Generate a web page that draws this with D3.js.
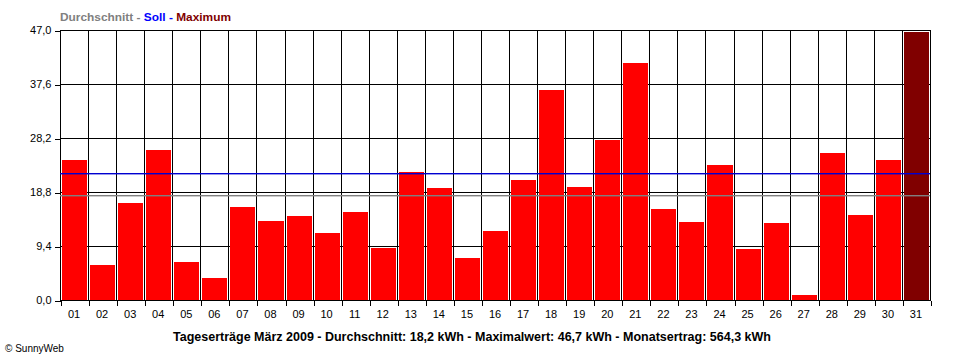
<!DOCTYPE html>
<html><head><meta charset="utf-8">
<script src="https://cdn.jsdelivr.net/npm/d3@7"></script>
<style>
body{margin:0;background:#fff}
svg{display:block;font-family:"Liberation Sans",Arial,sans-serif}
</style>
</head><body><svg id="c" width="960" height="360"></svg>
<script>
const days = ["01","02","03","04","05","06","07","08","09","10","11","12","13","14","15","16","17","18","19","20","21","22","23","24","25","26","27","28","29","30","31"];
const values = [24.4,6.1,16.9,26.1,6.6,3.8,16.2,13.8,14.6,11.7,15.3,9.1,22.3,19.5,7.3,12.0,20.9,36.6,19.7,27.9,41.3,15.8,13.6,23.5,8.9,13.4,0.9,25.6,14.8,24.4,46.7];
const average = 18.2;
const target = 22.1;
const yTicks = [0, 9.4, 18.8, 28.2, 37.6, 47.0];
const legendParts = [["Durchschnitt","#808080"],[" - ","#808080"],["Soll","#0000ff"],[" - ","#0000ff"],["Maximum","#800000"]];
const title = "Tageserträge März 2009 - Durchschnitt: 18,2 kWh - Maximalwert: 46,7 kWh - Monatsertrag: 564,3 kWh";
const credit = "© SunnyWeb";

const L = 60, R = 930, T = 30, B = 300;
const svg = d3.select("#c");
const fmt = v => d3.format(".1f")(v).replace(".", ",");

const y = d3.scaleLinear().domain([0, 47]).range([B, T]);
const xb = d3.scaleBand().domain(days).range([L, R]).padding(0);
const xl = d3.scaleLinear().domain([0, days.length]).range([L, R]);

const g = svg.append("g").attr("shape-rendering", "crispEdges");

g.selectAll("line.hg").data(yTicks).join("line").attr("class", "hg")
  .attr("x1", L).attr("x2", R)
  .attr("y1", d => Math.round(y(d)) + 0.5).attr("y2", d => Math.round(y(d)) + 0.5)
  .attr("stroke", "#000");
g.selectAll("line.vg").data(d3.range(days.length + 1)).join("line").attr("class", "vg")
  .attr("x1", d => Math.round(xl(d)) + 0.5).attr("x2", d => Math.round(xl(d)) + 0.5)
  .attr("y1", T).attr("y2", B)
  .attr("stroke", "#000");

const maxV = d3.max(values);
g.selectAll("rect.bar").data(values).join("rect").attr("class", "bar")
  .attr("x", (d, i) => Math.round(xb(days[i])) + 2)
  .attr("width", (d, i) => Math.round(xb(days[i]) + xb.bandwidth()) - Math.round(xb(days[i])) - 3)
  .attr("y", d => Math.round(y(d)))
  .attr("height", d => B - Math.round(y(d)))
  .attr("fill", d => d === maxV ? "#800000" : "#ff0000");

const refLines = [[target, "#0000d0"], [average, "#808080"]];
svg.append("g").selectAll("rect.ref").data(refLines).join("rect").attr("class", "ref")
  .attr("x", L).attr("width", R - L)
  .attr("y", d => Math.round(y(d[0])))
  .attr("height", 1.4)
  .attr("fill", d => d[1]);

g.append("rect").attr("x", L + 0.5).attr("y", T + 0.5).attr("width", R - L).attr("height", B - T)
  .attr("fill", "none").attr("stroke", "#000");

const ya = svg.append("g").attr("transform", `translate(${L + 0.5},0)`)
  .call(d3.axisLeft(y).tickValues(yTicks).tickSize(6).tickPadding(3).tickFormat(fmt));
ya.select(".domain").remove();
ya.selectAll("line").attr("shape-rendering", "crispEdges").attr("transform", d => `translate(0,${Math.round(y(d)) + 0.5 - y(d)})`);
ya.selectAll("text").attr("font-size", 11).attr("font-family", "Liberation Sans, Arial, sans-serif").attr("fill", "#000");

const xt = svg.append("g").attr("transform", `translate(0,${B + 0.5})`)
  .call(d3.axisBottom(xl).tickValues(d3.range(days.length + 1)).tickSize(5).tickFormat(""));
xt.select(".domain").remove();
xt.selectAll("line").attr("shape-rendering", "crispEdges").attr("transform", d => `translate(${Math.round(xl(d)) + 0.5 - xl(d)},0)`);

const xa = svg.append("g").attr("transform", `translate(0,${B})`)
  .call(d3.axisBottom(xb).tickSize(0).tickPadding(10));
xa.select(".domain").remove();
xa.selectAll("text").attr("font-size", 11).attr("font-family", "Liberation Sans, Arial, sans-serif").attr("fill", "#000");

const lg = svg.append("text").attr("x", 60).attr("y", 21)
  .attr("font-size", 11).attr("font-weight", "bold")
  .attr("textLength", 171).attr("lengthAdjust", "spacingAndGlyphs").style("white-space", "pre");
lg.selectAll("tspan").data(legendParts).join("tspan")
  .text(d => d[0]).attr("fill", d => d[1]);

svg.append("text").attr("x", 472).attr("y", 341).attr("text-anchor", "middle")
  .attr("font-size", 12).attr("font-weight", "bold").attr("fill", "#000")
  .attr("textLength", 598).attr("lengthAdjust", "spacingAndGlyphs").text(title);

svg.append("text").attr("x", 5).attr("y", 352).attr("font-size", 10).attr("fill", "#000").text(credit);
</script>
</body></html>
